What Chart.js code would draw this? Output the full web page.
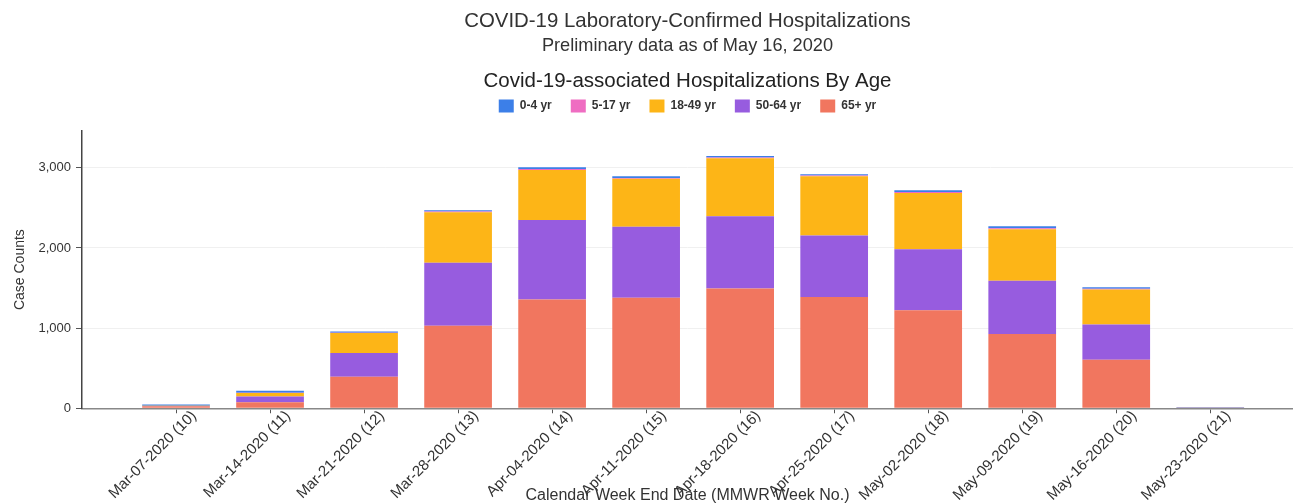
<!DOCTYPE html>
<html>
<head>
<meta charset="utf-8">
<script src="https://cdn.jsdelivr.net/npm/chart.js@4.4.1/dist/chart.umd.min.js"></script>
<style>
  html, body { margin:0; padding:0; background:#fff; }
  #wrap { width:1293px; height:504px; position:relative; }
</style>
</head>
<body>
<div id="wrap"><canvas id="chart-age"></canvas></div>
<script>
// ─── Data ─────────────────────────────────────────────────────────────────────
const WEEKS = [
  'Mar-07-2020 (10)', 'Mar-14-2020 (11)', 'Mar-21-2020 (12)', 'Mar-28-2020 (13)',
  'Apr-04-2020 (14)', 'Apr-11-2020 (15)', 'Apr-18-2020 (16)', 'Apr-25-2020 (17)',
  'May-02-2020 (18)', 'May-09-2020 (19)', 'May-16-2020 (20)', 'May-23-2020 (21)'
];
const AGE_65_PLUS = [26, 75, 393, 1029, 1357, 1378, 1494, 1387, 1224, 925, 605, 2];
const AGE_50_64   = [2, 73, 295, 785, 993, 885, 902, 768, 761, 665, 440, 1];
const AGE_18_49   = [2, 42, 250, 632, 624, 599, 724, 740, 702, 644, 436, 1];
const AGE_5_17    = [1, 4, 5, 8, 10, 10, 9, 8, 12, 13, 10, 0];
const AGE_0_4     = [16, 24, 15, 17, 23, 23, 19, 17, 22, 25, 20, 6];
const Y_TICKS = [0, 1000, 2000, 3000];

// ─── Style ────────────────────────────────────────────────────────────────────
const FONT = "'Liberation Sans', Arial, sans-serif";
const TEXT = '#333';
const COLORS = { a04:'#3c7fe8', a517:'#ef6dc2', a1849:'#fdb517', a5064:'#975cdf', a65:'#f1765f' };

// bars sit on a numeric x axis so the empty slot left of the first week is kept
const ds = (label, values, color) => ({
  label, data: values, backgroundColor: color, borderWidth: 0,
  categoryPercentage: 1, barPercentage: 0.72,
});

new Chart(document.getElementById('chart-age'), {
  type: 'bar',
  data: {
    labels: WEEKS.map((_, i) => i),
    datasets: [
      ds('65+ yr', AGE_65_PLUS, COLORS.a65),
      ds('50-64 yr', AGE_50_64, COLORS.a5064),
      ds('18-49 yr', AGE_18_49, COLORS.a1849),
      ds('5-17 yr', AGE_5_17, COLORS.a517),
      ds('0-4 yr', AGE_0_4, COLORS.a04),
    ]
  },
  options: {
    responsive: true,
    maintainAspectRatio: false,
    animation: false,
    layout: { padding: 0 },
    plugins: {
      title: {
        display: true, fullSize: false,
        text: 'COVID-19 Laboratory-Confirmed Hospitalizations',
        color: TEXT, font: { family: FONT, size: 20.4, weight: 'normal' },
        padding: { top: 9.5, bottom: 1 }
      },
      subtitle: {
        display: true, fullSize: false,
        text: 'Preliminary data as of May 16, 2020',
        color: TEXT, font: { family: FONT, size: 18.2, weight: 'normal' },
        padding: { top: 0, bottom: 2 }
      },
      legend: {
        fullSize: false,
        reverse: true,
        title: {
          display: true,
          text: 'Covid-19-associated Hospitalizations By Age',
          color: '#222', font: { family: FONT, size: 20.5, weight: 'normal' },
          padding: { top: 12.5, bottom: -15.5 }
        },
        labels: {
          boxWidth: 15, boxHeight: 13, padding: 19,
          color: TEXT, font: { family: FONT, size: 12, weight: 'bold' }
        }
      },
      tooltip: { enabled: false }
    },
    scales: {
      x: {
        type: 'linear', stacked: true, offset: false,
        min: -1, max: 11.88,
        afterBuildTicks: s => { s.ticks = WEEKS.map((_, i) => ({ value: i })); },
        ticks: {
          autoSkip: false, minRotation: 45, maxRotation: 45, padding: -6, labelOffset: 18,
          color: TEXT, font: { family: FONT, size: 15 },
          callback: v => WEEKS[v]
        },
        grid: { offset: false, drawOnChartArea: false, drawTicks: true, tickLength: 5, tickColor: '#555' },
        border: { display: true, color: '#888', width: 1.5 },
        title: {
          display: true, text: 'Calendar Week End Date (MMWR Week No.)',
          color: TEXT, font: { family: FONT, size: 16 },
          padding: { top: -12, bottom: -1.5 }
        }
      },
      // empty strip between the legend and the plot
      gap: {
        type: 'linear', position: 'top', display: true,
        ticks: { display: false }, grid: { display: false }, border: { display: false },
        afterFit: s => { s.height = 8.5; }
      },
      y: {
        stacked: true, min: 0, max: 3460,
        afterBuildTicks: s => { s.ticks = Y_TICKS.map(v => ({ value: v })); },
        afterFit: s => { s.width = 82; },
        ticks: {
          padding: 5, color: TEXT, font: { family: FONT, size: 13 },
          callback: v => v.toLocaleString('en-US')
        },
        grid: { color: '#f0f0f0', tickColor: '#555', tickLength: 6 },
        border: { display: true, color: '#444', width: 1.5 },
        title: {
          display: true, text: 'Case Counts',
          color: TEXT, font: { family: FONT, size: 14 },
          padding: { top: 12, bottom: 0 }
        }
      }
    }
  }
});
</script>
</body>
</html>
